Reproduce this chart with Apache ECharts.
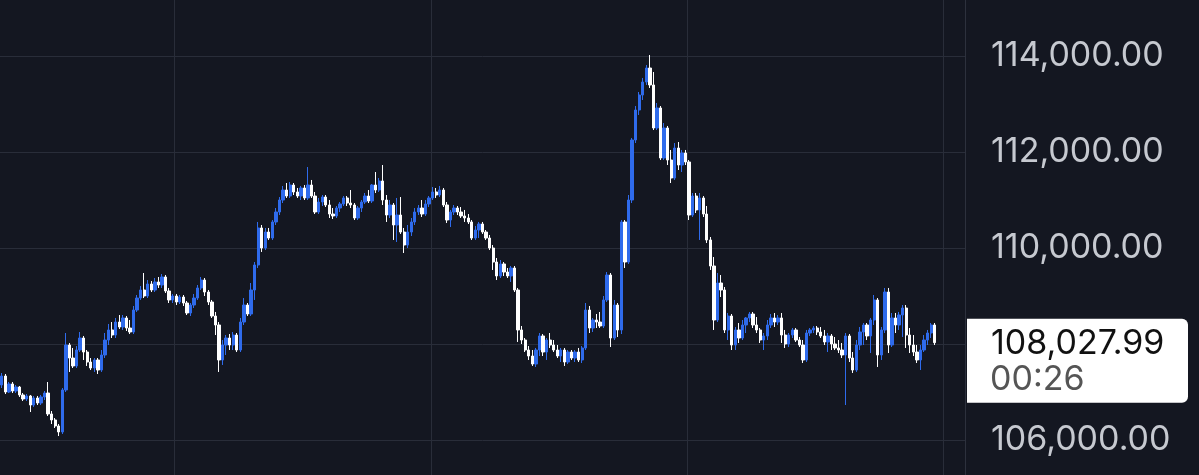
<!DOCTYPE html>
<html><head><meta charset="utf-8">
<script src="https://cdn.jsdelivr.net/npm/echarts@6/dist/echarts.min.js"></script>
<style>html,body{margin:0;padding:0;background:#141721;overflow:hidden}#c{width:1199px;height:475px}</style>
</head><body><div id="c"></div>
<script>
const opens = [
107146,107333,107000,107167,107021,107104,106938,106854,106917,106729,
106875,106771,106896,106979,106542,106417,106292,106167,107042,107979,
107708,107542,107875,108125,107833,107625,107500,107667,107458,107771,
108083,108292,108187,108458,108354,108542,108333,108250,108708,108958,
109125,109000,109250,109125,109292,109229,109396,109104,108917,109000,
108875,108979,108854,108646,108812,108958,109167,109333,109083,108875,
108583,108396,107667,107979,108125,107979,108187,107875,108458,108812,
108625,109125,109646,110417,110000,110333,110208,110542,110750,111000,
111208,111083,111312,111167,111083,111250,111042,111312,111083,110750,
110958,111062,110896,110708,110667,110833,110917,111042,110937,110896,
110625,110833,110958,111083,110979,111312,111208,111396,111000,110687,
110896,110479,110687,110333,110062,110333,110542,110750,110833,110708,
110917,111042,111167,111104,111208,110896,110583,110750,110833,110750,
110667,110625,110542,110208,110375,110500,110333,110208,110000,109708,
109417,109667,109500,109417,109583,109125,108292,108083,107875,107750,
107583,107875,108167,107833,108083,107979,107875,107750,107875,107625,
107833,107708,107833,107667,107917,108708,108333,108500,108458,108375,
108917,109437,108125,108812,108292,110542,109708,111000,112250,112875,
113187,113458,113750,113396,112500,112917,111875,112500,111833,111458,
112083,111729,111979,111792,110687,111083,110792,111042,110708,110167,
109625,108500,109271,109125,108292,108583,107979,108292,108125,108396,
108542,108625,108396,108292,108083,108167,108396,108542,108458,108542,
108187,108000,108187,108292,108083,107979,107667,108229,108292,108333,
108250,108167,108042,108167,108000,107917,107875,107771,108167,107708,
107458,107979,108250,108396,108167,108500,108917,107771,108292,109083,
107979,108542,108396,108604,108750,108187,107979,107833,107667,107875,
108083,108229,108396
];
const closes = [
107333,107000,107167,107021,107104,106938,106854,106917,106729,106875,
106771,106896,106979,106542,106417,106292,106167,107042,107979,107708,
107542,107875,108125,107833,107625,107500,107667,107458,107771,108083,
108292,108187,108458,108354,108542,108333,108250,108708,108958,109125,
109000,109250,109125,109292,109229,109396,109104,108917,109000,108875,
108979,108854,108646,108812,108958,109167,109333,109083,108875,108583,
108396,107667,107979,108125,107979,108187,107875,108458,108812,108625,
109125,109646,110417,110000,110333,110208,110542,110750,111000,111208,
111083,111312,111167,111083,111250,111042,111312,111083,110750,110958,
111062,110896,110708,110667,110833,110917,111042,110937,110896,110625,
110833,110958,111083,110979,111312,111208,111396,111000,110687,110896,
110479,110687,110333,110062,110333,110542,110750,110833,110708,110917,
111042,111167,111104,111208,110896,110583,110750,110833,110750,110667,
110625,110542,110208,110375,110500,110333,110208,110000,109708,109417,
109667,109500,109417,109583,109125,108292,108083,107875,107750,107583,
107875,108167,107833,108083,107979,107875,107750,107875,107625,107833,
107708,107833,107667,107917,108708,108333,108500,108458,108375,108917,
109437,108125,108812,108292,110542,109708,111000,112250,112875,113187,
113458,113750,113396,112500,112917,111875,112500,111833,111458,112083,
111729,111979,111792,110687,111083,110792,111042,110708,110167,109625,
108500,109271,109125,108292,108583,107979,108292,108125,108396,108542,
108625,108396,108292,108083,108167,108396,108542,108458,108542,108187,
108000,108187,108292,108083,107979,107667,108229,108292,108333,108250,
108167,108042,108167,108000,107917,107875,107771,108167,107708,107458,
107979,108250,108396,108167,108500,108917,107771,108292,109083,107979,
108542,108396,108604,108750,108187,107979,107833,107667,107875,108083,
108229,108396,108027.99
];
const lows = [
107083,106958,106979,106979,106979,106896,106813,106813,106583,106688,
106729,106729,106833,106500,106333,106250,106083,106125,107000,107417,
107500,107500,107833,107667,107542,107458,107417,107375,107417,107708,
107979,108125,108125,108312,108292,108271,108208,108208,108667,108917,
108958,108958,109083,109083,109167,109167,109062,108854,108854,108812,
108833,108792,108604,108583,108750,108917,109125,109000,108812,108542,
108187,107417,107563,107771,107875,107875,107833,107833,108396,108583,
108583,108917,109583,109917,109958,110167,110167,110479,110687,110937,
111042,111042,111104,111042,111000,111000,111000,111042,110708,110708,
110875,110854,110625,110604,110625,110750,110875,110875,110833,110583,
110583,110750,110917,110937,110937,111146,111167,110896,110542,110625,
110167,110125,110292,109896,110000,110250,110479,110687,110646,110667,
110854,111000,111042,111062,110854,110521,110437,110687,110687,110625,
110542,110500,110167,110167,110208,110292,110167,109958,109542,109333,
109375,109417,109375,109292,109083,108042,108000,107833,107667,107542,
107521,107750,107750,107667,107917,107833,107708,107625,107542,107583,
107667,107625,107625,107604,107875,108229,108250,108333,108333,108333,
108875,107937,108083,108146,108208,109583,109667,110937,112187,112771,
113083,113396,113333,112458,112458,111833,111833,111729,111354,111417,
111625,111583,111729,110583,110646,110729,110167,110646,110104,109542,
108292,108458,108979,108229,108083,107875,107875,108021,108083,108229,
108458,108333,108229,108021,107875,108083,108333,108354,108396,108021,
107917,107937,108125,108042,107937,107604,107625,108167,108229,108187,
108125,107979,107833,107875,107875,107812,107708,106729,107625,107396,
107417,107875,107979,108083,107812,108396,107521,107667,108229,107812,
107937,108229,108292,108146,107917,107812,107750,107604,107458,107833,
107979,108125,107979
];
const highs = [
107396,107375,107208,107208,107146,107125,106979,106958,106938,106917,
106917,106938,107021,107208,106604,106458,106333,107083,108229,108021,
107917,107958,108250,108167,107875,107708,107708,107708,107875,108229,
108417,108458,108542,108604,108604,108583,108500,108792,109021,109208,
109479,109333,109312,109375,109396,109458,109437,109167,109042,109042,
109021,109021,108896,108854,109042,109229,109396,109375,109125,108917,
108667,108458,108083,108187,108208,108250,108229,108542,108958,108854,
109271,109708,110542,110479,110417,110417,110583,110833,111062,111292,
111354,111375,111354,111250,111292,111312,111687,111417,111167,111042,
111104,111104,111000,110833,110875,110958,111083,111083,111208,110937,
110875,111000,111146,111208,111333,111583,111458,111729,111104,111000,
110937,111042,111062,110417,110479,110625,110833,110896,111000,111000,
111083,111271,111250,111292,111250,110958,110792,110896,110875,110854,
110792,110708,110583,110458,110542,110542,110375,110271,110062,109792,
109750,109708,109583,109625,109625,109167,108375,108125,107958,107875,
107917,108229,108208,108125,108229,108083,107979,107917,107917,107875,
107875,107875,107917,107958,108854,108792,108542,108625,108667,109000,
109500,109479,108917,108854,110583,110583,111104,112292,112958,113250,
113542,113812,114021,113667,113021,112958,112604,112542,112042,112187,
112208,112042,112042,111833,111146,111146,111146,111083,110875,110229,
109812,109479,109437,109187,108646,108625,108354,108437,108500,108562,
108667,108667,108562,108333,108229,108500,108625,108646,108604,108646,
108292,108229,108333,108333,108146,108083,108292,108333,108375,108375,
108354,108292,108229,108208,108146,108083,108021,108229,108208,107833,
108083,108354,108437,108437,108542,109021,108958,108354,109167,109167,
108646,108646,108667,108812,108812,108333,108187,107979,107979,108187,
108292,108437,108437
];
const priceTicks = { min: 104000, max: 116000, step: 2000 };
const countdown = '00:26';
const futureSlots = 8;

// category labels: 5-minute candles
const times = [];
for (let i = 0; i < opens.length + futureSlots; i++) {
  const m = (i * 5) % 1440;
  times.push(String(Math.floor(m / 60)).padStart(2, '0') + ':' + String(m % 60).padStart(2, '0'));
}
const candles = opens.map((o, i) => [o, closes[i], lows[i], highs[i]]);
const fmt = v => v.toLocaleString('en-US', { minimumFractionDigits: 2, maximumFractionDigits: 2 });

const chart = echarts.init(document.getElementById('c'));
const GRID = '#292d39';
chart.setOption({
  backgroundColor: '#141721',
  animation: false,
  grid: { left: 0, right: 234, top: -40, bottom: -61, containLabel: false, outerBoundsMode: 'none' },
  xAxis: {
    type: 'category', data: times, boundaryGap: true,
    axisLine: { show: false }, axisTick: { show: false }, axisLabel: { show: false },
    splitLine: { show: true, interval: (i) => i >= 49 && (i - 49) % 72 === 0, lineStyle: { color: GRID, width: 1 } }
  },
  yAxis: {
    type: 'value', position: 'right', min: priceTicks.min, max: priceTicks.max, interval: priceTicks.step,
    axisLine: { show: true, lineStyle: { color: '#2d313d', width: 1 } },
    axisTick: { show: false },
    splitLine: { show: true, lineStyle: { color: GRID, width: 1 } },
    axisLabel: { margin: 26, color: '#c6c9d0', fontSize: 34, fontFamily: 'Inter', formatter: fmt }
  },
  series: [{
    type: 'candlestick', data: candles, barWidth: 2.8,
    itemStyle: { color: '#2f6bec', color0: '#ffffff', borderColor: '#2f6bec', borderColor0: '#ffffff', borderWidth: 1 }
  }]
});

const last = closes[closes.length - 1];
const yPix = chart.convertToPixel({ yAxisIndex: 0 }, last);
chart.setOption({
  graphic: [{
    type: 'group', x: 967, y: yPix - 24, z: 100, zlevel: 1,
    children: [
      { type: 'rect', z: 100, zlevel: 1, shape: { x: 0, y: 0, width: 221, height: 84, r: [0, 6, 6, 0] }, style: { fill: '#ffffff' } },
      { type: 'text', z: 101, zlevel: 1, x: 24, y: 25, style: { text: fmt(last), fill: '#111111', font: '34px Inter', verticalAlign: 'middle' } },
      { type: 'text', z: 101, zlevel: 1, x: 23, y: 61, style: { text: countdown, fill: '#555555', font: '34px Inter', verticalAlign: 'middle' } }
    ]
  }]
});
</script>
</body></html>
